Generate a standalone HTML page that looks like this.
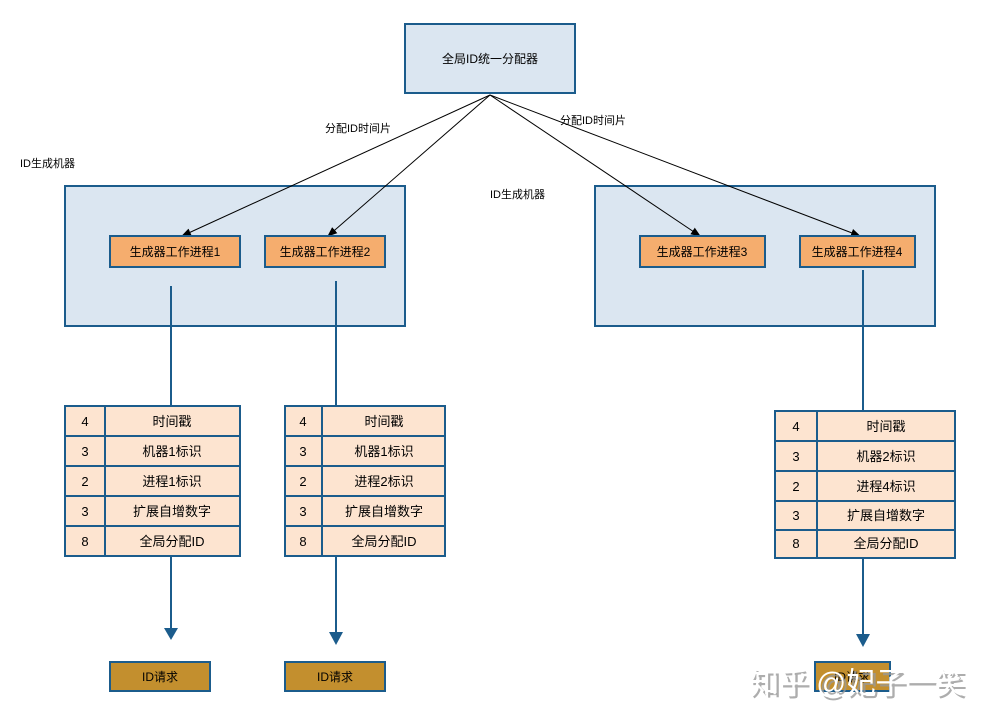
<!DOCTYPE html>
<html><head><meta charset="utf-8"><style>
html,body{margin:0;padding:0;background:#fff;}
svg{display:block;font-family:"Liberation Sans","Noto Sans CJK SC",sans-serif;}
</style></head><body>
<svg width="987" height="724" viewBox="0 0 987 724" xmlns="http://www.w3.org/2000/svg">
<defs>
<marker id="a" markerWidth="10" markerHeight="10" refX="9" refY="5" orient="auto" markerUnits="userSpaceOnUse"><path d="M0,1 L10,5 L0,9 Z" fill="#000"/></marker>
</defs>
<rect width="987" height="724" fill="#fff"/>
<rect x="65" y="186" width="340" height="140" fill="#dbe6f1" stroke="#1b5c8c" stroke-width="2"/>
<rect x="595" y="186" width="340" height="140" fill="#dbe6f1" stroke="#1b5c8c" stroke-width="2"/>
<rect x="405" y="24" width="170" height="69" fill="#dbe6f1" stroke="#1b5c8c" stroke-width="2"/>
<text x="490" y="63" font-size="12" text-anchor="middle">全局ID统一分配器</text>
<g stroke="#000" stroke-width="1" fill="none" marker-end="url(#a)">
<line x1="490" y1="95" x2="182" y2="236"/>
<line x1="490" y1="95" x2="328" y2="236"/>
<line x1="490" y1="95" x2="700" y2="236"/>
<line x1="490" y1="95" x2="860" y2="236"/>
</g>
<text x="325" y="132" font-size="11">分配ID时间片</text>
<text x="560" y="124" font-size="11">分配ID时间片</text>
<text x="20" y="167" font-size="11">ID生成机器</text>
<text x="490" y="198" font-size="11">ID生成机器</text>
<g fill="#f5ad6e" stroke="#1b5c8c" stroke-width="2">
<rect x="110" y="236" width="130" height="31"/>
<rect x="265" y="236" width="120" height="31"/>
<rect x="640" y="236" width="125" height="31"/>
<rect x="800" y="236" width="115" height="31"/>
</g>
<g font-size="12" text-anchor="middle">
<text x="175" y="256">生成器工作进程1</text>
<text x="325" y="256">生成器工作进程2</text>
<text x="702" y="256">生成器工作进程3</text>
<text x="857" y="256">生成器工作进程4</text>
</g>
<g stroke="#1b5c8c" stroke-width="2">
<line x1="171" y1="286" x2="171" y2="406"/>
<line x1="336" y1="281" x2="336" y2="406"/>
<line x1="863" y1="270" x2="863" y2="411"/>
<line x1="171" y1="556" x2="171" y2="630"/>
<line x1="336" y1="556" x2="336" y2="634"/>
<line x1="863" y1="558" x2="863" y2="636"/>
</g>
<g fill="#1b5c8c">
<path d="M164,628 L178,628 L171,640 Z"/>
<path d="M329,632 L343,632 L336,645 Z"/>
<path d="M856,634 L870,634 L863,647 Z"/>
</g>
<g stroke="#1b5c8c" stroke-width="2" fill="#fde4d0">
<rect x="65" y="406" width="175" height="150"/>
<rect x="285" y="406" width="160" height="150"/>
<rect x="775" y="411" width="180" height="147"/>
</g>
<g stroke="#1b5c8c" stroke-width="2">
<line x1="105" y1="406" x2="105" y2="556"/>
<line x1="65" y1="436" x2="240" y2="436"/><line x1="65" y1="466" x2="240" y2="466"/><line x1="65" y1="496" x2="240" y2="496"/><line x1="65" y1="526" x2="240" y2="526"/>
<line x1="322" y1="406" x2="322" y2="556"/>
<line x1="285" y1="436" x2="445" y2="436"/><line x1="285" y1="466" x2="445" y2="466"/><line x1="285" y1="496" x2="445" y2="496"/><line x1="285" y1="526" x2="445" y2="526"/>
<line x1="817" y1="411" x2="817" y2="558"/>
<line x1="775" y1="441" x2="955" y2="441"/><line x1="775" y1="471" x2="955" y2="471"/><line x1="775" y1="501" x2="955" y2="501"/><line x1="775" y1="530" x2="955" y2="530"/>
</g>
<g font-size="13" text-anchor="middle">
<text x="85" y="426">4</text><text x="172" y="426">时间戳</text>
<text x="85" y="456">3</text><text x="172" y="456">机器1标识</text>
<text x="85" y="486">2</text><text x="172" y="486">进程1标识</text>
<text x="85" y="516">3</text><text x="172" y="516">扩展自增数字</text>
<text x="85" y="546">8</text><text x="172" y="546">全局分配ID</text>
<text x="303" y="426">4</text><text x="384" y="426">时间戳</text>
<text x="303" y="456">3</text><text x="384" y="456">机器1标识</text>
<text x="303" y="486">2</text><text x="384" y="486">进程2标识</text>
<text x="303" y="516">3</text><text x="384" y="516">扩展自增数字</text>
<text x="303" y="546">8</text><text x="384" y="546">全局分配ID</text>
<text x="796" y="431">4</text><text x="886" y="431">时间戳</text>
<text x="796" y="461">3</text><text x="886" y="461">机器2标识</text>
<text x="796" y="491">2</text><text x="886" y="491">进程4标识</text>
<text x="796" y="520">3</text><text x="886" y="520">扩展自增数字</text>
<text x="796" y="548">8</text><text x="886" y="548">全局分配ID</text>
</g>
<g fill="#c38f2e" stroke="#1b5c8c" stroke-width="2">
<rect x="110" y="662" width="100" height="29"/>
<rect x="285" y="662" width="100" height="29"/>
<rect x="815" y="662" width="75" height="29"/>
</g>
<g font-size="12" text-anchor="middle">
<text x="160" y="681">ID请求</text>
<text x="335" y="681">ID请求</text>
<text x="852" y="681">ID请求</text>
</g>
<text x="752" y="696" font-size="29.5" fill="#999" opacity="0.8">知乎 @妃子一笑</text>
<text x="749" y="693" font-size="29.5" fill="#fff">知乎 @妃子一笑</text>
</svg>
</body></html>
